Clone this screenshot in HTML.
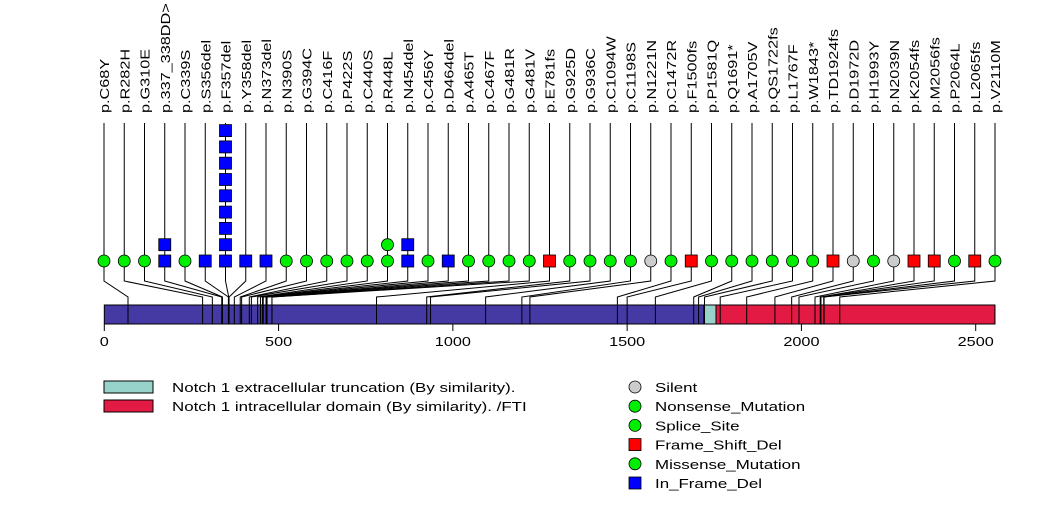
<!DOCTYPE html>
<html><head><meta charset="utf-8"><style>
body{margin:0;background:#fff;}
svg{display:block;font-family:"Liberation Sans",sans-serif;}
</style></head><body>
<svg id="chart" width="1047" height="524"></svg>
<script>
const labels=["p.C68Y","p.R282H","p.G310E","p.337_338DD>","p.C339S","p.S356del","p.F357del","p.Y358del","p.N373del","p.N390S","p.G394C","p.C416F","p.P422S","p.C440S","p.R448L","p.N454del","p.C456Y","p.D464del","p.A465T","p.C467F","p.G481R","p.G481V","p.E781fs","p.G925D","p.G936C","p.C1094W","p.C1198S","p.N1221N","p.C1472R","p.F1500fs","p.P1581Q","p.Q1691*","p.A1705V","p.QS1722fs","p.L1767F","p.W1843*","p.TD1924fs","p.D1972D","p.H1993Y","p.N2039N","p.K2054fs","p.M2056fs","p.P2064L","p.L2065fs","p.V2110M"];
const positions=[68,282,310,337,339,356,357,358,373,390,394,416,422,440,448,454,456,464,465,467,481,481,781,925,936,1094,1198,1221,1472,1500,1581,1691,1705,1722,1767,1843,1924,1972,1993,2039,2054,2056,2064,2065,2110];
const types=["M","M","M","D","M","D","D","D","D","M","M","M","M","M","M","D","M","D","M","M","M","M","F","M","M","M","M","S","M","F","M","N","M","M","M","N","F","S","M","S","F","F","M","F","M"];
const counts=[1,1,1,2,1,1,9,1,1,1,1,1,1,1,2,2,1,1,1,1,1,1,1,1,1,1,1,1,1,1,1,1,1,1,1,1,1,1,1,1,1,1,1,1,1];
const proteinLength=2555;
const domainStarts=[1720,1755];
const domainEnds=[1755,2555];
const domainNames=["Notch 1 extracellular truncation (By similarity).","Notch 1 intracellular domain (By similarity). /FTI"];
const axisTicks=[0,500,1000,1500,2000,2500];
const legendNames=["Silent","Nonsense_Mutation","Splice_Site","Frame_Shift_Del","Missense_Mutation","In_Frame_Del"];
const legendTypes=["S","N","M","F","M","D"];

const svg=document.getElementById('chart');
const NS="http://www.w3.org/2000/svg";
function mk(tag,attrs,parent){const e=document.createElementNS(NS,tag);for(const k in attrs)e.setAttribute(k,attrs[k]);(parent||svg).appendChild(e);return e;}
const x0=104.3,pxPer=871.4/2500;
const xs=v=>x0+v*pxPer;
const slot=i=>104+i*(995-104)/(labels.length-1);
const fill={M:"#00ee00",N:"#00ee00",S:"#cccccc",F:"#ff0000",D:"#0000ff"};
const isSq=t=>t==="F"||t==="D";
const barTop=305,barBot=324,baseY=261,step=16.3;

const bar=mk('rect',{x:xs(0),y:barTop,width:xs(proteinLength)-xs(0),height:barBot-barTop,fill:"#4539a3",stroke:"#000","stroke-width":1});


const dcol=["#97d3cb","#e31a44"];
domainStarts.forEach((s,i)=>{
  const r=mk('rect',{x:xs(s),y:barTop,width:xs(domainEnds[i])-xs(s),height:barBot-barTop,fill:dcol[i],stroke:"#000","stroke-width":1});
  
  
});
labels.forEach((l,i)=>{
  const sx=slot(i),px=xs(positions[i]);
  const p=mk('polyline',{points:`${sx},123 ${sx},281 ${px},297 ${px},${barBot}`,fill:"none",stroke:"#000","stroke-width":1});
  
  
});
labels.forEach((l,i)=>{
  const sx=slot(i);
  const t=mk('text',{x:0,y:0,"font-size":13,transform:`translate(${sx+5},113) rotate(-90) scale(1.25,1)`});
  t.textContent=l;
  
  
  for(let k=0;k<counts[i];k++){
    const cy=baseY-k*step;const ty=types[i];
    let m;
    if(isSq(ty)) m=mk('rect',{x:sx-6,y:cy-6,width:12,height:12,fill:fill[ty],stroke:"#000","stroke-width":0.8});
    else m=mk('circle',{cx:sx,cy:cy,r:6,fill:fill[ty],stroke:"#000","stroke-width":0.8});
    
    
  }
});
axisTicks.forEach(v=>{
  const ln=mk('line',{x1:xs(v),x2:xs(v),y1:barBot,y2:331,stroke:"#000"});
  
  
  const t=mk('text',{x:0,y:0,"font-size":13,"text-anchor":"middle",transform:`translate(${xs(v)},346) scale(1.25,1)`});
  t.textContent=v;
  
  
});
domainNames.forEach((n,i)=>{
  const y=381+i*19;
  const r=mk('rect',{x:104,y:y,width:49,height:12,fill:dcol[i],stroke:"#000","stroke-width":1});
  
  
  const t=mk('text',{x:0,y:0,"font-size":13,transform:`translate(172,${y+11}) scale(1.3,1)`});
  t.textContent=n;
  
  
});
legendNames.forEach((n,i)=>{
  const cy=387+i*19.2,ty=legendTypes[i];
  let m;
  if(isSq(ty)) m=mk('rect',{x:629,y:cy-6,width:12,height:12,fill:fill[ty],stroke:"#000","stroke-width":0.8});
  else m=mk('circle',{cx:635,cy:cy,r:6,fill:fill[ty],stroke:"#000","stroke-width":0.8});
  
  
  const t=mk('text',{x:0,y:0,"font-size":13,transform:`translate(655,${cy+5}) scale(1.3,1)`});
  t.textContent=n;
  
  
});
</script>
</body></html>
